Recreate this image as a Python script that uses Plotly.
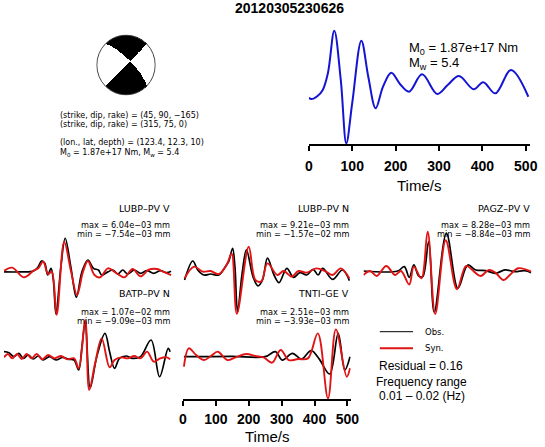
import numpy as np
import plotly.graph_objects as go

W, H = 545, 447
FONT = "Liberation Sans, Arial, Helvetica, sans-serif"
SMALL = "DejaVu Sans, Liberation Sans, sans-serif"

# ---------------- data ----------------
event_id = "20120305230626"
plane1 = (45, 90, -165)      # strike, dip, rake
plane2 = (315, 75, 0)
location = (123.4, 12.3, 10)  # lon, lat, depth
m0_str = "1.87e+17"
mw_val = 5.4
residual = 0.16
freq_band = (0.01, 0.02)

# source time function (normalised moment rate)
stf_t = [0, 6, 20, 32, 44, 58.6, 73.6, 86.4, 100, 121, 137, 154, 171, 190, 210, 231,
         261, 296, 320, 346, 380, 402, 430, 466, 506]
stf_v = [0.409, 0.397, 0.424, 0.477, 0.627, 1.0, 0.565, 0.006, 0.362, 0.912, 0.594, 0.315,
         0.506, 0.629, 0.53, 0.462, 0.615, 0.441, 0.52, 0.600, 0.483, 0.545, 0.447, 0.653, 0.417]

stations = ["LUBP–PV V", "LUBP–PV N", "PAGZ–PV V", "BATP–PV N", "TNTI–GE V"]
obs_max = ["6.04e−03", "9.21e−03", "8.28e−03", "1.07e−02", "2.51e−03"]
obs_min = ["−7.54e−03", "−1.57e−02", "−8.84e−03", "−9.09e−03", "−3.93e−03"]

# waveforms (time in s, amplitude in 1e-3 mm)
lubpv_obs_t = [0, 50, 90, 104, 114, 124, 133, 143, 150, 158, 173, 186, 203, 220, 237, 255, 272,
               287, 297, 316, 331, 346, 361, 376, 396, 415, 435, 455, 475, 495, 508]
lubpv_obs_a = [0.0, 0.0, 0.16, 0.9, 1.96, 1.54, -0.56, 0.64, -1.45, -7.54, 0.94, 6.04, 0.94,
               -4.56, 0.04, 2.13, 0.64, 0.34, -0.56, 0.0, 0.34, -0.38, 0.34, -0.38, 0.34, -0.26,
               0.22, -0.26, 0.22, -0.14, 0.1]
lubpv_syn_t = [0, 25, 60, 90, 104, 119, 134, 145, 160, 183, 204, 222, 240, 255, 275, 292, 316,
               341, 366, 391, 415, 440, 465, 485, 508]
lubpv_syn_a = [0.16, 0.76, -0.98, 0.22, 0.64, 1.84, -0.38, 0.04, -7.7, 5.42, 0.0, -4.14, 0.0,
               1.96, -0.56, -0.98, 0.64, -0.2, -0.98, 0.52, -0.8, 0.4, 0.52, 0.0, -0.56]

lubpn_obs_t = [5, 30, 45, 64, 84, 109, 129, 139, 151, 158, 166, 180, 193, 213, 228, 242, 257,
               277, 292, 316, 336, 356, 376, 396, 411, 425, 455, 485, 506]
lubpn_obs_a = [-2.95, 4.33, 0.88, -1.03, -0.65, -1.03, 2.15, 4.06, 9.21, 2.15, -15.2, -0.39,
               8.6, -1.66, -5.2, -2.9, 5.4, -1.03, -3.97, 1.51, -1.91, -0.13, -1.03, 1.15,
               -1.03, 1.51, -2.71, 0.88, -3.2]
lubpn_syn_t = [5, 34, 60, 84, 109, 134, 148, 164, 200, 220, 238, 257, 287, 306, 331, 351, 376,
               405, 435, 455, 480, 506]
lubpn_syn_a = [-2.33, 2.15, 0.24, 0.5, -0.65, 3.17, 7.26, -15.9, 9.8, -2.9, -3.5, 3.43, -1.03,
               0.5, -1.66, 0.5, -0.13, 1.51, 0.24, -1.03, 1.51, -2.33]

pagzv_obs_t = [0, 104, 124, 139, 153, 168, 180, 198, 215, 252, 287, 317, 341, 371, 401, 430,
               460, 490, 510]
pagzv_obs_a = [0.28, 0.28, 1.2, -1.07, 1.56, -0.79, -0.93, 6.5, -8.5, 8.28, -3.4, 1.56, 0.5,
               0.35, -0.21, 0.5, 0.14, 0.35, -0.07]
pagzv_syn_t = [0, 20, 40, 69, 96, 114, 139, 153, 176, 195, 218, 250, 284, 312, 336, 356, 381,
               401, 425, 445, 470, 510]
pagzv_syn_a = [-0.57, 0.28, -0.79, 1.35, -0.57, 0.28, -2.6, 1.2, -1.28, 8.63, -8.85, 6.8, -3.6,
               1.35, 0.14, -0.79, 0.5, -0.07, -1.63, -0.57, 0.85, 0.14]

batpn_obs_t = [0, 15, 30, 45, 59, 74, 89, 104, 119, 138, 158, 178, 198, 213, 227, 237, 247, 262,
               282, 307, 321, 336, 351, 371, 391, 415, 447, 473, 499, 505]
batpn_obs_a = [1.73, 1.43, 0.25, 1.24, -0.25, 0.75, -0.45, 0.45, -0.75, 0.25, -0.75, 0.05,
               -0.55, -0.75, -3.73, 3.24, 10.7, -9.09, 0.25, 7.21, 1.74, -3.23, -0.25, 0.45,
               -0.25, 0.25, 5.22, -5.72, 2.74, 1.74]
batpn_syn_t = [0, 12, 25, 40, 54, 69, 84, 99, 117, 134, 153, 173, 193, 213, 227, 247, 259, 277,
               297, 321, 336, 356, 376, 396, 415, 435, 455, 475, 495, 505]
batpn_syn_a = [0.05, 1.04, -0.25, 1.04, -0.45, 1.04, -0.25, 1.04, -0.55, 0.75, -0.25, 0.45,
               -0.55, -0.25, -3.23, 11.2, -9.7, -1.74, 5.72, -2.93, -0.75, 0.05, -0.25, 0.45,
               -0.25, 1.74, -1.24, -0.25, 0.05, -0.55]

tntiv_obs_t = [3, 50, 150, 250, 281, 302, 333, 360, 390, 415, 446, 472, 492, 508]
tntiv_obs_a = [0.0, 0.0, 0.04, 0.0, 0.54, -0.36, 0.36, -0.25, 0.65, -0.29, -1.86, 2.51, -1.43,
               0.0]
tntiv_syn_t = [3, 18, 40, 64, 85, 106, 135, 160, 193, 220, 245, 271, 297, 322, 350, 380, 410,
               441, 465, 498, 508]
tntiv_syn_a = [-1.08, 0.9, 0.18, -0.36, 0.07, 0.54, -0.36, -0.07, 0.29, 0.07, -0.07, -0.64,
               0.72, -0.36, -0.25, -0.18, 2.51, -4.48, 2.94, -2.15, -1.25]

obs_t = [lubpv_obs_t, lubpn_obs_t, pagzv_obs_t, batpn_obs_t, tntiv_obs_t]
obs_a = [lubpv_obs_a, lubpn_obs_a, pagzv_obs_a, batpn_obs_a, tntiv_obs_a]
syn_t = [lubpv_syn_t, lubpn_syn_t, pagzv_syn_t, batpn_syn_t, tntiv_syn_t]
syn_a = [lubpv_syn_a, lubpn_syn_a, pagzv_syn_a, batpn_syn_a, tntiv_syn_a]

time_ticks = [0, 100, 200, 300, 400, 500]
t_max = 510

# ---------------- layout helpers (pixels -> paper) ----------------
def fx(px):
    return px / W


def fy(py):
    return 1 - py / H


# panel geometry in pixels: left x, baseline y, px per unit, window top/bottom, label ys
PX_PER_S = 0.337
panels = [
    dict(x0=0.0, b=271.9, s=5.57, top=195, bot=335, xr=172, ly=(208.3, 225.0, 234.0)),
    dict(x0=183.3, b=272.3, s=2.61, top=195, bot=335, xr=355.5, ly=(208.3, 225.0, 234.0)),
    dict(x0=368.3, b=272.3, s=4.71, top=195, bot=335, xr=541, ly=(208.3, 225.0, 234.0)),
    dict(x0=0.0, b=357.5, s=3.35, top=290, bot=420, xr=172, ly=(293.3, 311.7, 320.7)),
    dict(x0=183.3, b=356.7, s=9.3, top=290, bot=399, xr=355.5, ly=(293.3, 311.7, 320.7)),
]

fig = go.Figure()
layout = dict(
    width=W, height=H, margin=dict(l=0, r=0, t=0, b=0),
    paper_bgcolor="white", plot_bgcolor="rgba(0,0,0,0)",
    showlegend=False, font=dict(family=FONT, color="black"),
)

# ---------------- beach ball ----------------
def beachball(strike, dip, rake, n=241):
    s, d, r = np.radians([strike, dip, rake])
    nvec = np.array([-np.sin(d) * np.sin(s), np.sin(d) * np.cos(s), -np.cos(d)])
    svec = np.array([np.cos(r) * np.cos(s) + np.cos(d) * np.sin(r) * np.sin(s),
                     np.cos(r) * np.sin(s) - np.cos(d) * np.sin(r) * np.cos(s),
                     -np.sin(r) * np.sin(d)])
    g = np.linspace(-1, 1, n)
    X, Y = np.meshgrid(g, g)
    R = np.hypot(X, Y)
    inc = 2 * np.arcsin(np.clip(R / np.sqrt(2), 0, 1))
    az = np.arctan2(X, Y)
    ray = np.stack([np.sin(inc) * np.cos(az), np.sin(inc) * np.sin(az), np.cos(inc)])
    amp = np.einsum("i,ijk->jk", nvec, ray) * np.einsum("i,ijk->jk", svec, ray)
    z = np.where(amp > 0, 1.0, 0.0)
    z[R > 1] = np.nan
    return g, z


g, z = beachball(*plane1)
fig.add_trace(go.Heatmap(x=g, y=g, z=z, colorscale=[[0, "white"], [1, "black"]],
                         showscale=False, zmin=0, zmax=1, hoverinfo="skip",
                         xaxis="x", yaxis="y"))
layout["xaxis"] = dict(domain=[fx(94.5), fx(155.5)], range=[-1.02, 1.02], visible=False,
                       anchor="y")
layout["yaxis"] = dict(domain=[fy(95.5), fy(34.5)], range=[-1.02, 1.02], visible=False,
                       anchor="x")
shapes = [dict(type="circle", xref="x", yref="y", x0=-1, x1=1, y0=-1, y1=1,
               line=dict(color="#444", width=1))]

# ---------------- STF ----------------
fig.add_trace(go.Scatter(x=stf_t, y=stf_v, mode="lines", line=dict(color="#1414d2", width=2,
                         shape="spline", smoothing=1.0), xaxis="x2", yaxis="y2",
                         hoverinfo="skip"))
stf_x0, stf_b, stf_s = 312.3, 144.0, 113.3
stf_top_val = 1.12
layout["xaxis2"] = dict(domain=[fx(stf_x0), fx(stf_x0 + t_max * 0.4444)], range=[0, t_max],
                        anchor="y2", showline=True, linecolor="black", linewidth=2,
                        ticks="outside", ticklen=5, tickwidth=1.5, tickcolor="black",
                        tickvals=time_ticks, showgrid=False, zeroline=False,
                        tickfont=dict(size=14, family=FONT, weight="bold"),
                        ticklabelstandoff=3)
layout["yaxis2"] = dict(domain=[fy(stf_b), fy(stf_b - stf_top_val * stf_s)],
                        range=[0, stf_top_val], visible=False, anchor="x2")

# ---------------- waveform panels ----------------
for i, p in enumerate(panels):
    xa = f"x{i + 3}"
    ya = f"y{i + 3}"
    fig.add_trace(go.Scatter(x=obs_t[i], y=obs_a[i], mode="lines",
                             line=dict(color="black", width=1.7, shape="spline"),
                             xaxis=xa, yaxis=ya, hoverinfo="skip"))
    fig.add_trace(go.Scatter(x=syn_t[i], y=syn_a[i], mode="lines",
                             line=dict(color="#e01414", width=1.9, shape="spline"),
                             xaxis=xa, yaxis=ya, hoverinfo="skip"))
    lo = -(p["bot"] - p["b"]) / p["s"]
    hi = (p["b"] - p["top"]) / p["s"]
    xd = dict(domain=[fx(p["x0"]), fx(p["x0"] + t_max * PX_PER_S)], range=[0, t_max],
              anchor=ya, showgrid=False, zeroline=False)
    if i == 4:
        xd.update(showline=True, linecolor="black", linewidth=2, ticks="outside", ticklen=5,
                  tickwidth=1.5, tickcolor="black", tickvals=time_ticks,
                  tickfont=dict(size=14, family=FONT, weight="bold"), ticklabelstandoff=1)
    else:
        xd.update(visible=False)
    layout[f"xaxis{i + 3}"] = xd
    layout[f"yaxis{i + 3}"] = dict(domain=[fy(p["bot"]), fy(p["top"])], range=[lo, hi],
                                   visible=False, anchor=xa)

# ---------------- annotations ----------------
ann = []


def text(s, x, y, size, xanchor="left", bold=False, family=FONT):
    ann.append(dict(text=f"<b>{s}</b>" if bold else s, x=fx(x), y=fy(y), xref="paper",
                    yref="paper", xanchor=xanchor, yanchor="middle", showarrow=False,
                    font=dict(size=size, family=family, color="black")))


text(event_id, 292, 7.5, 14, "center", bold=True)

text("(strike, dip, rake) = (%d, %d, −%d)" % (plane1[0], plane1[1], abs(plane1[2])),
     55, 115.2, 8, family=SMALL)
text("(strike, dip, rake) = (%d, %d, %d)" % plane2, 55, 124.8, 8, family=SMALL)
text("(lon., lat, depth) = (%.1f, %.1f, %d)" % location, 55, 142.8, 8, family=SMALL)
text("M<sub>0</sub> = %s Nm, M<sub>w</sub> = %.1f" % (m0_str, mw_val), 55, 152.6, 8,
     family=SMALL)

text("M<sub>0</sub> = %s Nm" % m0_str, 413, 48.3, 13)
text("M<sub>w</sub> = %.1f" % mw_val, 413, 63.7, 13)
text("Time/s", 425, 185, 15, "center")
text("Time/s", 269, 436, 15, "center")

for i, p in enumerate(panels):
    text(stations[i], p["xr"], p["ly"][0], 9.5, "right", family=SMALL)
    text("max = %s mm" % obs_max[i], p["xr"], p["ly"][1], 8.2, "right", family=SMALL)
    text("min = %s mm" % obs_min[i], p["xr"], p["ly"][2], 8.2, "right", family=SMALL)

# legend block
shapes.append(dict(type="line", xref="paper", yref="paper", x0=fx(385), x1=fx(419),
                   y0=fy(331.7), y1=fy(331.7), line=dict(color="black", width=1)))
shapes.append(dict(type="line", xref="paper", yref="paper", x0=fx(385), x1=fx(419),
                   y0=fy(348.3), y1=fy(348.3), line=dict(color="#e01414", width=2)))
text("Obs.", 429, 331.7, 8.5, family=SMALL)
text("Syn.", 429, 348.3, 8.5, family=SMALL)
text("Residual = %.2f" % residual, 427.5, 366, 12, "center")
text("Frequency range", 428, 382, 12, "center")
text("%.2f – %.2f (Hz)" % freq_band, 428.5, 395.7, 12, "center")

layout["annotations"] = ann
layout["shapes"] = shapes
fig.update_layout(**layout)

fig.write_html("out.html", config={"displayModeBar": False},
               post_script="document.body.style.margin='0';document.body.style.overflow='hidden';")
